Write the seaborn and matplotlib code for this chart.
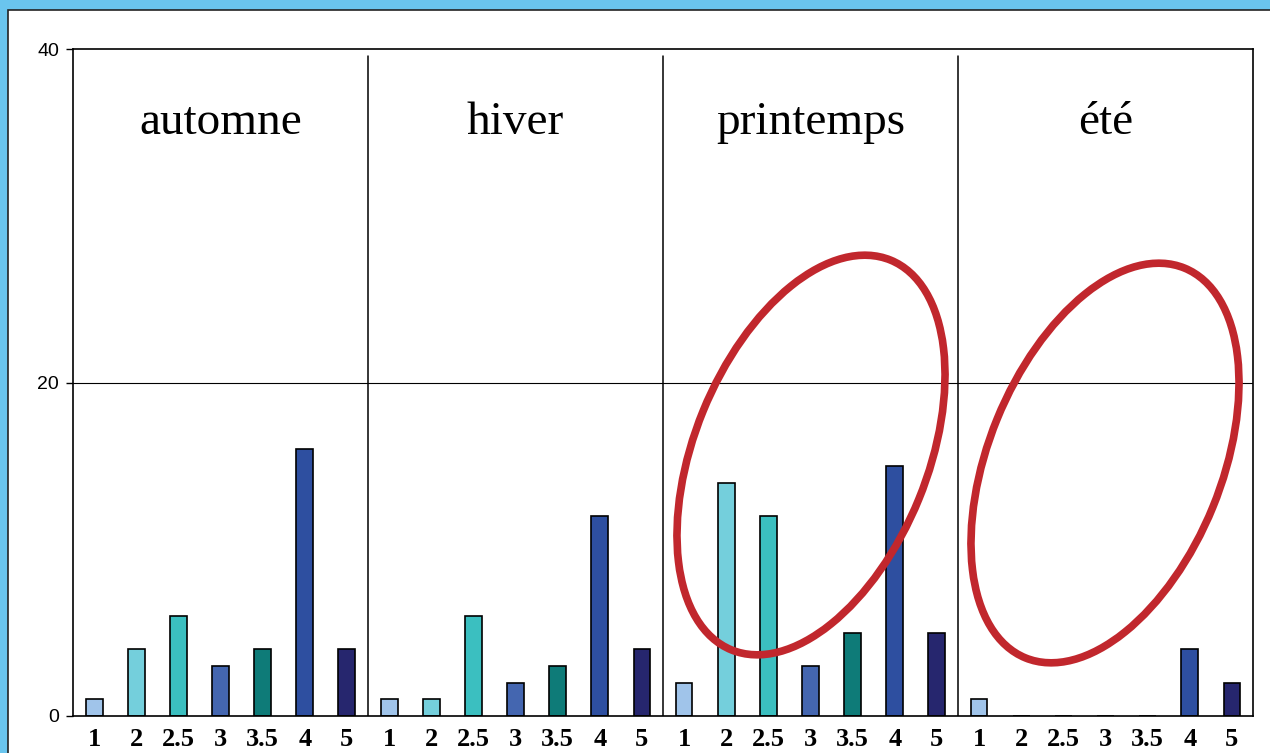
import pandas as pd
import matplotlib.pyplot as plt
import seaborn as sns
from matplotlib.patches import Ellipse, Rectangle
from matplotlib.transforms import IdentityTransform

# données
saisons = ['automne', 'hiver', 'printemps', 'été']
notes = ['1', '2', '2.5', '3', '3.5', '4', '5']
automne = [1, 4, 6, 3, 4, 16, 4]
hiver = [1, 1, 6, 2, 3, 12, 4]
printemps = [2, 14, 12, 3, 5, 15, 5]
ete = [1, 0, 0, 0, 0, 4, 2]
couleurs = ['#A0C4EA', '#74CFDC', '#3BBFC0', '#4466B0', '#0E7B78', '#2E4FA0', '#26266E']

rows = []
for saison, valeurs in zip(saisons, [automne, hiver, printemps, ete]):
    for note, v in zip(notes, valeurs):
        rows.append({'cle': f'{saison}_{note}', 'note': note, 'n': v})
df = pd.DataFrame(rows)

sns.set_style('white')
fig = plt.figure(figsize=(12.7, 7.53), dpi=100)
fig.patch.set_facecolor('#6AC5EE')
# panneau blanc
fig.patches.append(Rectangle((8 / 1270, -0.01), 1.0, (753 - 10) / 753 + 0.01,
                             transform=fig.transFigure, facecolor='white',
                             edgecolor='#222222', linewidth=1.2, zorder=-5))

ax = fig.add_axes([73 / 1270, 37 / 753, 1180 / 1270, 667 / 753])
ax.set_facecolor('white')
sns.barplot(data=df, x='cle', y='n', hue='note', order=df['cle'].tolist(),
            palette=dict(zip(notes, couleurs)), dodge=False, width=0.4, saturation=1,
            edgecolor='black', linewidth=1.2, legend=False, ax=ax)

ax.set_xlim(-0.5, len(df) - 0.5)
ax.set_ylim(0, 40)
ax.set_yticks([0, 20, 40])
ax.set_yticklabels(['0', '20', '40'], family='Liberation Sans', fontsize=14, color='black')
ax.tick_params(axis='y', length=5, width=1, color='black', pad=5, left=True)
ax.set_xticks(range(len(df)))
ax.set_xticklabels(df['note'], family='Liberation Serif', fontweight='bold', fontsize=19,
                   color='black')
ax.tick_params(axis='x', length=0, pad=9)
ax.axhline(20, color='black', linewidth=0.8, zorder=0)
ax.set_xlabel('')
ax.set_ylabel('')
for s in ax.spines.values():
    s.set_visible(True)
    s.set_color('black')
    s.set_linewidth(1.2)

for i, saison in enumerate(saisons):
    if i > 0:
        ax.axvline(7 * i - 0.5, ymin=0, ymax=0.99, color='black', linewidth=1.1)
    ax.text(7 * i + 3, 0.89, saison, transform=ax.get_xaxis_transform(), color='black',
            ha='center', va='center', family='Liberation Serif', fontsize=34)

# ellipses rouges
for cx, cy in [(811, 298), (1105, 290)]:
    fig.patches.append(Ellipse((cx, cy), 421, 233, angle=67.8, transform=IdentityTransform(),
                               fill=False, edgecolor='#C1272D', linewidth=5.5, zorder=5))

fig.savefig('out.png', dpi=100)
